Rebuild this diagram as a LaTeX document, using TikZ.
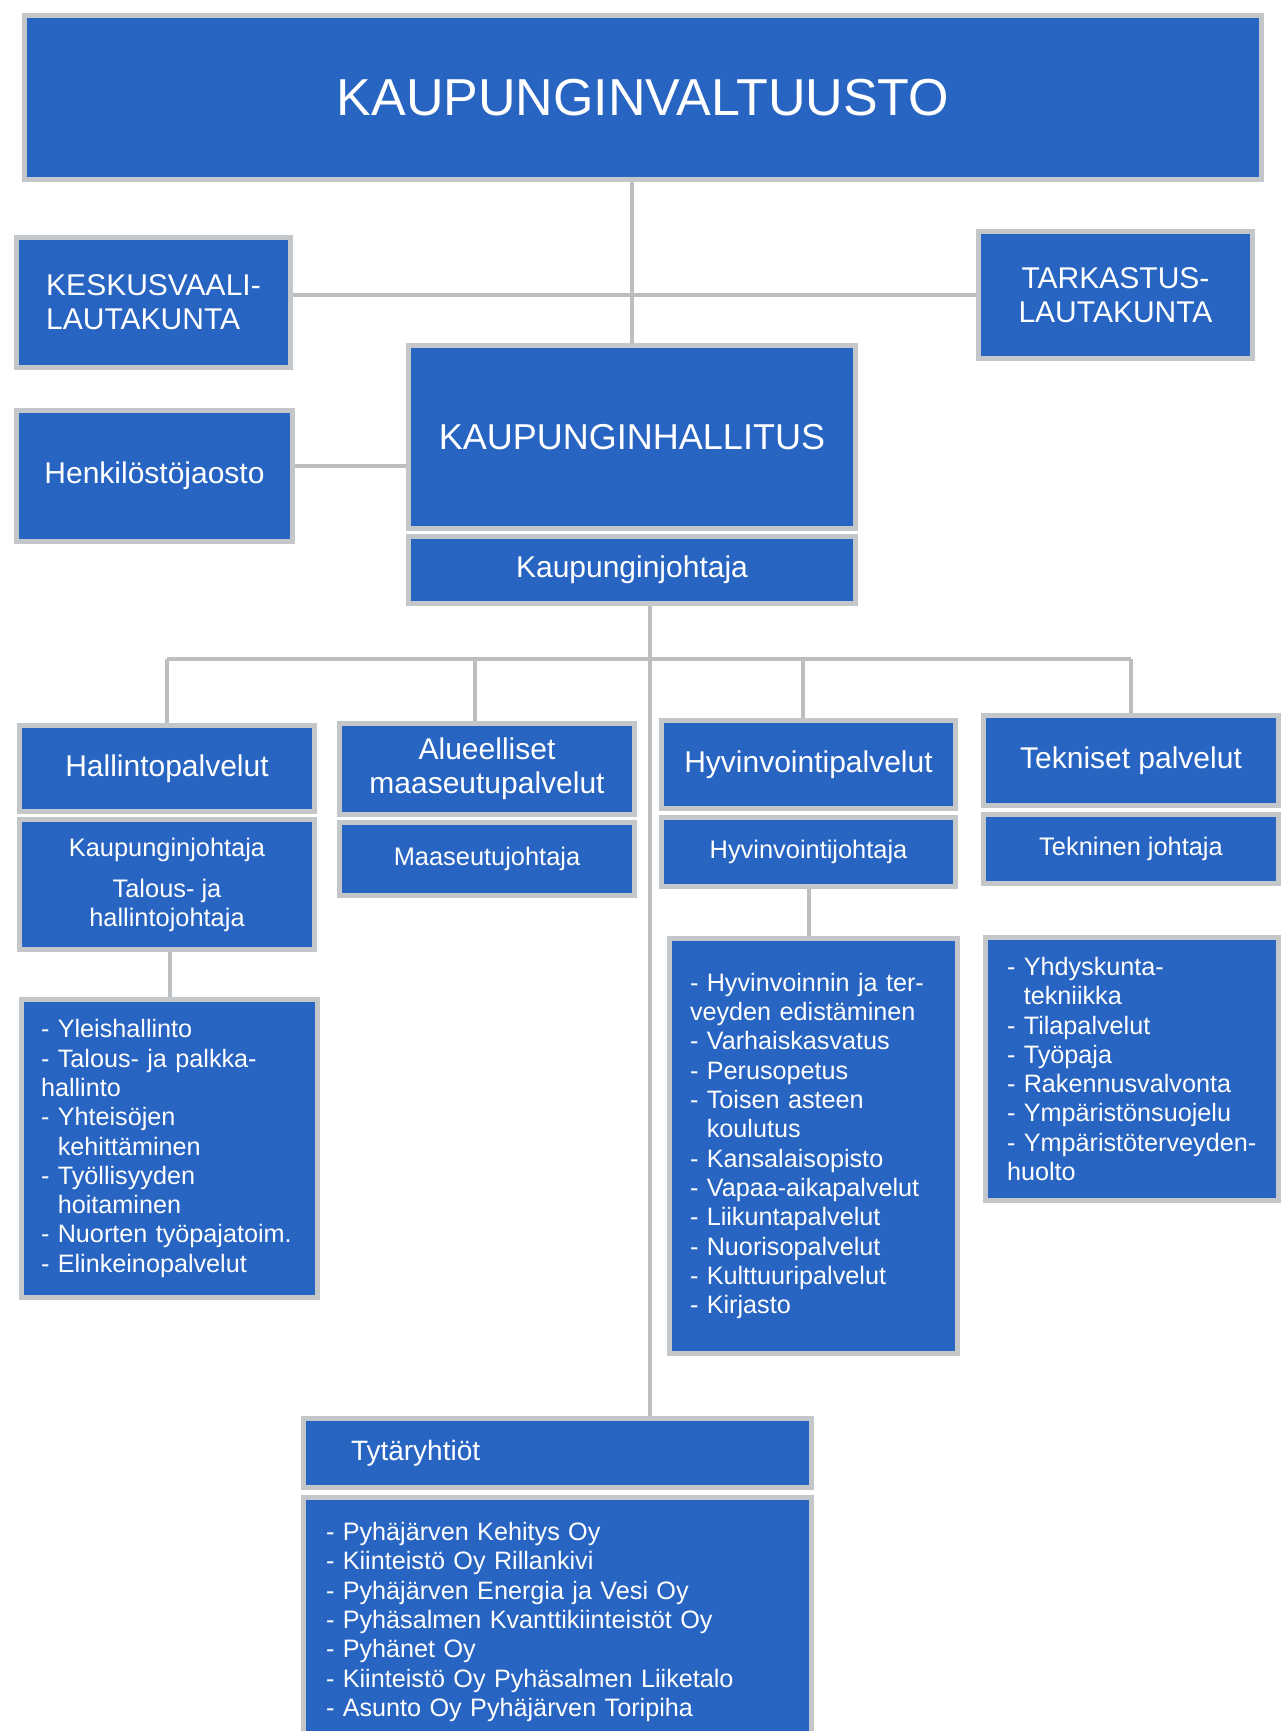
\documentclass[tikz,border=0pt]{standalone}
\usepackage{fontspec}
\setmainfont{Liberation Sans}
\usetikzlibrary{backgrounds}

\definecolor{boxblue}{RGB}{40,100,194}
\definecolor{edgegray}{RGB}{196,199,202}
\definecolor{linegray}{RGB}{188,190,192}

\tikzset{
	orgbox/.style={draw=edgegray, line width=2.5pt, fill=boxblue, text=white, inner sep=0pt, align=center},
	headfont/.style={font=\fontsize{15}{17}\selectfont},
	subfont/.style={font=\fontsize{12.7}{14.5}\selectfont},
	listbox/.style={orgbox, align=left, font=\fontsize{12.6}{14.65}\selectfont},
	link/.style={draw=linegray, line width=2pt},
}
\newcommand\contline{\hphantom{-\ }}

\begin{document}
\begin{tikzpicture}[x=0.5pt, y=-0.5pt]
	\useasboundingbox (0,0) rectangle (1284,1731);

	% top level
	\node[orgbox, minimum width=618.5pt, minimum height=82pt, font=\fontsize{26}{30}\selectfont] (valtuusto) at (643,97.5) {KAUPUNGINVALTUUSTO};
	\node[orgbox, headfont, align=left, minimum width=137pt, minimum height=65pt] (keskusvaali) at (153.5,302.5) {KESKUSVAALI-\\LAUTAKUNTA};
	\node[orgbox, headfont, minimum width=137pt, minimum height=63.5pt] (tarkastus) at (1115.5,295) {TARKASTUS-\\LAUTAKUNTA};
	\node[orgbox, minimum width=223.5pt, minimum height=91.5pt, font=\fontsize{18}{21}\selectfont] (hallitus) at (632,437) {KAUPUNGINHALLITUS};
	\node[orgbox, headfont, minimum width=223.5pt, minimum height=33.5pt] (kjohtaja) at (632,570) {Kaupunginjohtaja};
	\node[orgbox, headfont, minimum width=138pt, minimum height=65.5pt] (henkilosto) at (154.5,476) {Henkilöstöjaosto};

	% palvelualueet
	\node[orgbox, headfont, minimum width=147.5pt, minimum height=43pt] (hallintohead) at (167,768.5) {Hallintopalvelut};
	\node[orgbox, subfont, minimum width=147.5pt, minimum height=65pt] (hallintosub) at (167,884.5) {Kaupunginjohtaja\\[6pt]Talous- ja\\hallintojohtaja};
	\node[orgbox, headfont, minimum width=147.5pt, minimum height=45.5pt] (aluehead) at (487,769) {Alueelliset\\maaseutupalvelut};
	\node[orgbox, subfont, minimum width=147.5pt, minimum height=36.5pt] (aluesub) at (487,859) {Maaseutujohtaja};
	\node[orgbox, headfont, minimum width=147pt, minimum height=44pt] (hyvinhead) at (808.5,764.5) {Hyvinvointipalvelut};
	\node[orgbox, subfont, minimum width=147pt, minimum height=34.5pt] (hyvinsub) at (808.5,852) {Hyvinvointijohtaja};
	\node[orgbox, headfont, minimum width=147.5pt, minimum height=45pt] (teknhead) at (1131,760.5) {Tekniset palvelut};
	\node[orgbox, subfont, minimum width=147.5pt, minimum height=34.5pt] (teknsub) at (1131,849) {Tekninen johtaja};

	% tehtavat
	\node[listbox, text width=128.5pt, minimum width=148pt, minimum height=149pt] (hallintolist) at (169.5,1148.5) {%
		- Yleishallinto\\
		- Talous- ja palkka-\\
		hallinto\\
		- Yhteisöjen\\
		\contline kehittäminen\\
		- Työllisyyden\\
		\contline hoitaminen\\
		- Nuorten työpajatoim.\\
		- Elinkeinopalvelut};
	\node[listbox, text width=123.5pt, minimum width=144pt, minimum height=207.5pt] (hyvinlist) at (813.5,1146) {%
		- Hyvinvoinnin ja ter-\\
		veyden edistäminen\\
		- Varhaiskasvatus\\
		- Perusopetus\\
		- Toisen asteen\\
		\contline koulutus\\
		- Kansalaisopisto\\
		- Vapaa-aikapalvelut\\
		- Liikuntapalvelut\\
		- Nuorisopalvelut\\
		- Kulttuuripalvelut\\
		- Kirjasto};
	\node[listbox, text width=125pt, minimum width=146.5pt, minimum height=131.5pt] (teknlist) at (1132,1069) {%
		- Yhdyskunta-\\
		\contline tekniikka\\
		- Tilapalvelut\\
		- Työpaja\\
		- Rakennusvalvonta\\
		- Ympäristönsuojelu\\
		- Ympäristöterveyden-\\
		huolto};

	% tytaryhtiot
	\node[orgbox, text width=206.5pt, align=left, minimum width=254pt, minimum height=34.5pt, font=\fontsize{14}{16}\selectfont] (tytarhead) at (557.5,1453) {Tytäryhtiöt};
	\node[listbox, text width=231.5pt, minimum width=254pt, minimum height=124.5pt] (tytarlist) at (557.5,1622) {%
		- Pyhäjärven Kehitys Oy\\
		- Kiinteistö Oy Rillankivi\\
		- Pyhäjärven Energia ja Vesi Oy\\
		- Pyhäsalmen Kvanttikiinteistöt Oy\\
		- Pyhänet Oy\\
		- Kiinteistö Oy Pyhäsalmen Liiketalo\\
		- Asunto Oy Pyhäjärven Toripiha};

	% connectors
	\begin{scope}[on background layer]
		\coordinate (trunk) at (650,606);
		\coordinate (bus) at (169,659);
		\draw[link] (hallitus.north |- valtuusto.south) -- (hallitus.north);
		\draw[link] (keskusvaali.east |- tarkastus.west) -- (tarkastus.west);
		\draw[link] ([yshift=5pt]henkilosto.east) -- ([yshift=5pt]henkilosto.east -| hallitus.west);
		\draw[link] (trunk) -- (trunk |- tytarhead.north);
		\draw[link] (hallintohead.north |- bus) -- (teknhead.north |- bus);
		\draw[link] (hallintohead.north |- bus) -- (hallintohead.north);
		\draw[link] ([xshift=-6pt]aluehead.north |- bus) -- ([xshift=-6pt]aluehead.north);
		\draw[link] ([xshift=-3pt]hyvinhead.north |- bus) -- ([xshift=-3pt]hyvinhead.north);
		\draw[link] (teknhead.north |- bus) -- (teknhead.north);
		\draw[link] (hallintolist.north |- hallintosub.south) -- (hallintolist.north);
		\draw[link] (hyvinsub.south) -- (hyvinsub.south |- hyvinlist.north);
	\end{scope}
\end{tikzpicture}
\end{document}
